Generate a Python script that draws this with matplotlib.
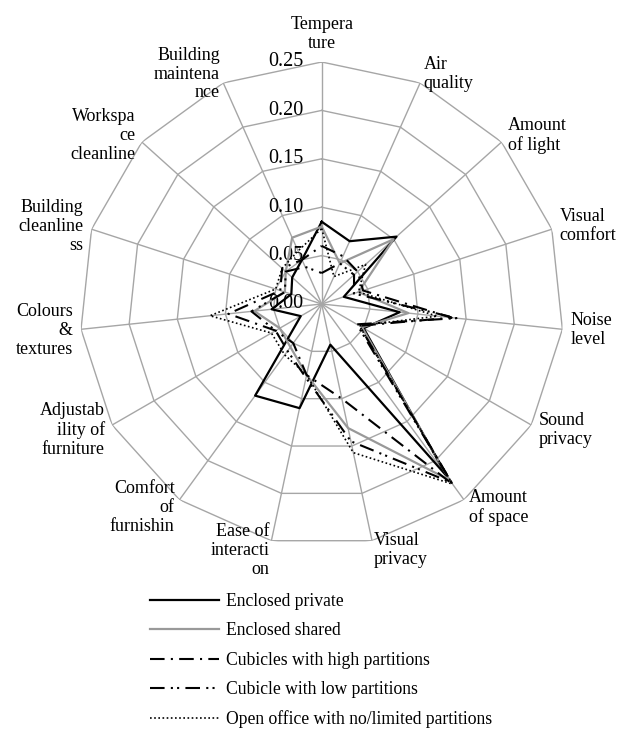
import numpy as np
import matplotlib
matplotlib.use("Agg")
import matplotlib.pyplot as plt

plt.rcParams['font.family'] = ['Liberation Serif', 'DejaVu Serif']

# categories, clockwise from the top
categories = ["Tempera\nture", "Air\nquality", "Amount\nof light", "Visual\ncomfort",
              "Noise\nlevel", "Sound\nprivacy", "Amount\nof space", "Visual\nprivacy",
              "Ease of\ninteracti\non", "Comfort\nof\nfurnishin", "Adjustab\nility of\nfurniture",
              "Colours\n&\ntextures", "Building\ncleanline\nss", "Workspa\nce\ncleanline",
              "Building\nmaintena\nnce"]

enclosed_private = [0.085, 0.071, 0.104, 0.024, 0.081, 0.050, 0.220, 0.043,
                    0.110, 0.117, 0.025, 0.052, 0.033, 0.041, 0.050]
enclosed_shared = [0.080, 0.046, 0.100, 0.040, 0.090, 0.048, 0.225, 0.131,
                   0.075, 0.055, 0.050, 0.070, 0.040, 0.050, 0.075]
cubicles_high = [0.060, 0.054, 0.050, 0.045, 0.135, 0.045, 0.230, 0.100,
                 0.075, 0.050, 0.055, 0.097, 0.045, 0.055, 0.050]
cubicles_low = [0.032, 0.046, 0.045, 0.035, 0.140, 0.042, 0.228, 0.145,
                0.078, 0.060, 0.055, 0.073, 0.040, 0.050, 0.042]
open_office = [0.078, 0.031, 0.061, 0.040, 0.120, 0.045, 0.230, 0.157,
               0.075, 0.065, 0.060, 0.116, 0.050, 0.055, 0.060]

series_names = ["Enclosed private", "Enclosed shared", "Cubicles with high partitions",
                "Cubicle with low partitions", "Open office with no/limited partitions"]
ring_values = [0.05, 0.10, 0.15, 0.20, 0.25]
tick_values = [0.00, 0.05, 0.10, 0.15, 0.20, 0.25]

n = len(categories)
angles = np.arange(n) * 2 * np.pi / n
closed = np.append(angles, angles[0])

fig = plt.figure(figsize=(6.21, 7.31), dpi=100)
ax = fig.add_axes([79.7 / 621, 185 / 731, 484 / 621, 484 / 731], projection='polar')
ax.set_theta_zero_location('N')
ax.set_theta_direction(-1)
ax.set_ylim(0, 0.25)
ax.grid(False)
ax.set_xticks([])
ax.set_yticks([])
ax.spines['polar'].set_visible(False)

grid_col = '#a6a6a6'
# polygon rings and spokes
for r in ring_values:
    ax.plot(closed, [r] * (n + 1), color=grid_col, lw=1.0, zorder=1)
for a in angles:
    ax.plot([a, a], [0, 0.25], color=grid_col, lw=1.0, zorder=1)

# radial tick labels
for v in tick_values:
    ax.annotate("%.2f" % v, xy=(0, v), xytext=(-13, 0), textcoords='offset points',
                ha='right', va='center', fontsize=14.5, zorder=2)

# category labels
for a, lab in zip(angles, categories):
    s, c = np.sin(a), np.cos(a)
    if abs(s) < 0.05:
        ha = 'center'
    elif s > 0:
        ha = 'left'
    else:
        ha = 'right'
    va = 'bottom' if c > 0.95 else 'center'
    ax.annotate(lab, xy=(a, 0.25), xytext=(6 * s, 7 * c), textcoords='offset points',
                ha=ha, va=va, fontsize=13, linespacing=1.15, annotation_clip=False)

data = [enclosed_private, enclosed_shared, cubicles_high, cubicles_low, open_office]
styles = [
    dict(color='black', lw=1.6, linestyle='-'),
    dict(color='#999999', lw=1.6, linestyle='-'),
    dict(color='black', lw=1.5, linestyle=(0, (7, 3, 1, 3))),
    dict(color='black', lw=1.5, linestyle=(0, (7, 3, 1, 2, 1, 3))),
    dict(color='black', lw=1.2, linestyle=(0, (1, 1.5))),
]
for vals, name, st in zip(data, series_names, styles):
    ax.plot(closed, list(vals) + [vals[0]], label=name, zorder=3, **st)

fig.legend(loc='upper left', bbox_to_anchor=(150 / 621, 1 - 593 / 731), frameon=False,
           fontsize=12.7, handlelength=3.9, handletextpad=0.4, labelspacing=0.7,
           borderpad=0, borderaxespad=0)

fig.savefig("out.png", dpi=100)
